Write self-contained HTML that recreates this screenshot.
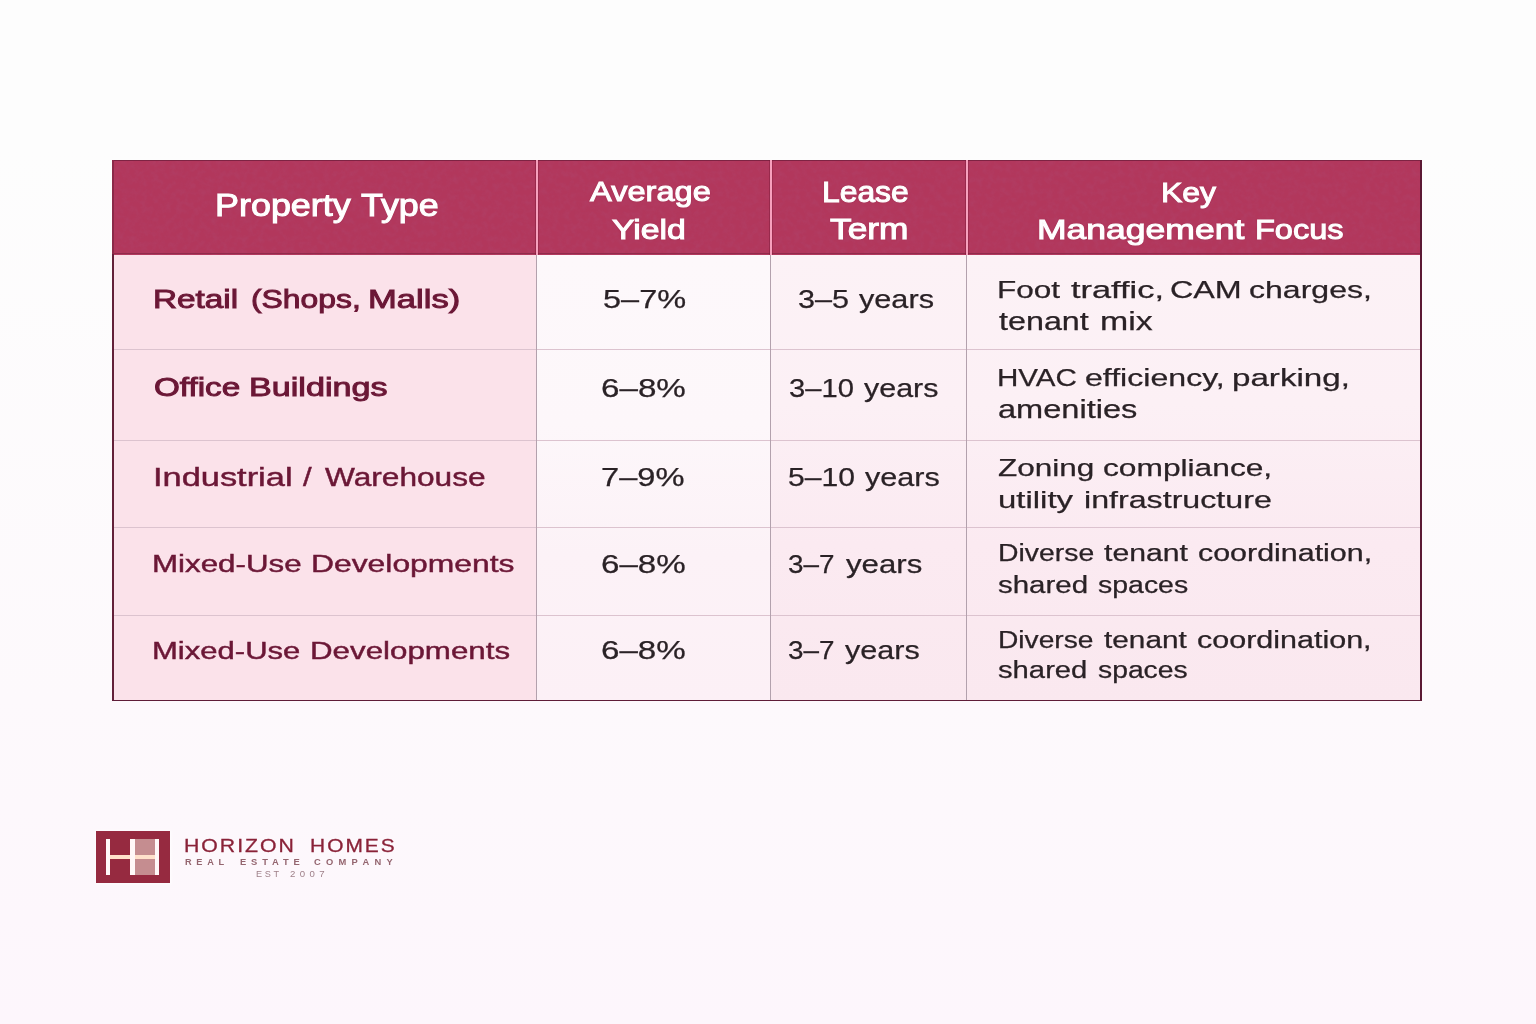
<!DOCTYPE html>
<html lang="en">
<head>
<meta charset="utf-8">
<title>Commercial Property Types</title>
<style>
html,body{margin:0;padding:0;}
body{width:1536px;height:1024px;overflow:hidden;position:relative;
  font-family:"Liberation Sans",sans-serif;
  background:linear-gradient(180deg,#fdfdfd 0px,#fdfdfd 150px,#fdf9fc 700px,#fdf6fc 1024px);}
.abs{position:absolute;}
/* table */
#tbl{position:absolute;left:112px;top:160px;width:1310px;height:541px;background:#fcedf2;}
#hdr{position:absolute;left:0;top:0;width:1310px;height:94.5px;background:#b2375c;}
#hdrtop{position:absolute;left:0;top:0;width:1310px;height:1.2px;background:#7e2343;}
#hdrbot{position:absolute;left:0;top:93.2px;width:1310px;height:1.3px;background:#912b4c;}
#col1{position:absolute;left:0;top:94.5px;width:424px;height:446px;background:#fbe2ea;}
#c2{position:absolute;left:424px;top:94.5px;width:235px;height:446px;
  background:linear-gradient(180deg,#fdf8fb 0px,#fdf7fa 170px,#fcf2f7 300px,#fcf0f6 446px);}
#c34{position:absolute;left:658px;top:94.5px;width:652px;height:446px;
  background:linear-gradient(180deg,#fcf2f6 0px,#fcf0f5 150px,#fbeaf1 290px,#fae8ef 446px);}
.vl{position:absolute;top:94.5px;height:446px;width:1.6px;background:#b3a1ad;}
.vh{position:absolute;top:0;height:94.5px;width:2px;background:#f7a0bd;box-shadow:-1px 0 0 rgba(120,25,55,.45),1px 0 0 rgba(120,25,55,.35);}
.hl{position:absolute;left:2px;width:1306px;height:1px;background:#dcc3cf;}
#bl{position:absolute;left:0;top:94px;width:2px;height:447px;background:#632039;}
#blh{position:absolute;left:0;top:0;width:2px;height:94px;background:#8c2949;}
#br{position:absolute;left:1308px;top:0;width:2px;height:541px;background:#5b1934;}
#bb{position:absolute;left:0;top:539.7px;width:1310px;height:1.4px;background:#5f1d38;}
.t{position:absolute;white-space:nowrap;line-height:1;transform-origin:0 50%;}
.t.m{-webkit-text-stroke:0.45px #6b1736;}
.t.sb{-webkit-text-stroke:0.95px #6b1736;}
.t.h{-webkit-text-stroke:1.0px #fff;text-shadow:0 0 1.5px rgba(110,20,50,.6);}
.t.b{-webkit-text-stroke:0.25px #2a2226;}
.t.lgt{-webkit-text-stroke:0.3px #8a2238;}
/* logo */
#lg{position:absolute;left:96px;top:831px;width:74px;height:52px;background:#962a40;box-shadow:0 0 3px 1.5px rgba(255,255,255,.75);}
#lg i{position:absolute;display:block;}
</style>
</head>
<body>
<div id="tbl">
  <div id="hdr"><svg width="1310" height="95" style="position:absolute;left:0;top:0;display:block"><filter id="nz" x="0" y="0" width="100%" height="100%"><feTurbulence type="fractalNoise" baseFrequency="0.17" numOctaves="3" seed="7" result="n"/><feColorMatrix type="matrix" values="0 0 0 0 0.42  0 0 0 0 0.08  0 0 0 0 0.2  0.9 0 0 0 -0.33"/></filter><rect width="1310" height="95" filter="url(#nz)" opacity="0.5"/></svg></div>
  <div id="col1"></div>
  <div id="c2"></div><div id="c34"></div>
  <div class="hl" style="top:189px"></div>
  <div class="hl" style="top:280px"></div>
  <div class="hl" style="top:367px"></div>
  <div class="hl" style="top:455px"></div>
  <div class="vl" style="left:423.5px"></div>
  <div class="vl" style="left:657.6px"></div>
  <div class="vl" style="left:853.6px"></div>
  <div id="hdrtop"></div>
  <div id="hdrbot"></div>
  <div class="vh" style="left:423.6px"></div>
  <div class="vh" style="left:657.7px"></div>
  <div class="vh" style="left:853.6px"></div>
  <div id="blh"></div><div id="bl"></div><div id="br"></div><div id="bb"></div>
</div>
<div id="lg">
  <i style="left:39px;top:8.4px;width:19.6px;height:35.4px;background:#c58d90"></i>
  <i style="left:14.3px;top:24px;width:44.3px;height:4.2px;background:#ffe1cb"></i>
  <i style="left:9.9px;top:8.2px;width:4.4px;height:35.7px;background:#fff8f8"></i>
  <i style="left:34.2px;top:8.2px;width:4.8px;height:35.7px;background:#fff8f8"></i>
  <i style="left:58.6px;top:8.2px;width:4.4px;height:35.7px;background:#fff8f8"></i>
</div>
<span class="t h" style="left:215.18px;top:190px;font-size:31.0px;letter-spacing:0.000px;color:#ffffff;font-weight:400;transform:scaleX(1.1586)">Property</span>
<span class="t h" style="left:360.50px;top:190px;font-size:31.0px;letter-spacing:0.000px;color:#ffffff;font-weight:400;transform:scaleX(1.1567)">Type</span>
<span class="t h" style="left:590.30px;top:177px;font-size:28.5px;letter-spacing:0.000px;color:#ffffff;font-weight:400;transform:scaleX(1.1433)">Average</span>
<span class="t h" style="left:612.20px;top:215px;font-size:28.5px;letter-spacing:0.000px;color:#ffffff;font-weight:400;transform:scaleX(1.1860)">Yield</span>
<span class="t h" style="left:821.59px;top:178px;font-size:28.8px;letter-spacing:0.000px;color:#ffffff;font-weight:400;transform:scaleX(1.1054)">Lease</span>
<span class="t h" style="left:829.50px;top:215px;font-size:28.8px;letter-spacing:-0.000px;color:#ffffff;font-weight:400;transform:scaleX(1.2253)">Term</span>
<span class="t h" style="left:1160.86px;top:178px;font-size:28.5px;letter-spacing:0.000px;color:#ffffff;font-weight:400;transform:scaleX(1.1220)">Key</span>
<span class="t h" style="left:1036.61px;top:215px;font-size:28.5px;letter-spacing:0.000px;color:#ffffff;font-weight:400;transform:scaleX(1.2461)">Management</span>
<span class="t h" style="left:1255.22px;top:215px;font-size:28.5px;letter-spacing:0.000px;color:#ffffff;font-weight:400;transform:scaleX(1.1412)">Focus</span>
<span class="t sb" style="left:153.44px;top:286px;font-size:26.3px;letter-spacing:0.000px;color:#6b1736;font-weight:400;transform:scaleX(1.2665)">Retail</span>
<span class="t sb" style="left:250.56px;top:286px;font-size:26.3px;letter-spacing:0.000px;color:#6b1736;font-weight:400;transform:scaleX(1.2111)">(Shops,</span>
<span class="t sb" style="left:368.35px;top:286px;font-size:26.3px;letter-spacing:0.000px;color:#6b1736;font-weight:400;transform:scaleX(1.3145)">Malls)</span>
<span class="t sb" style="left:153.68px;top:375px;font-size:25.6px;letter-spacing:0.000px;color:#6b1736;font-weight:400;transform:scaleX(1.2978)">Office</span>
<span class="t sb" style="left:249.11px;top:375px;font-size:25.6px;letter-spacing:0.000px;color:#6b1736;font-weight:400;transform:scaleX(1.3333)">Buildings</span>
<span class="t m" style="left:153.28px;top:464px;font-size:26.0px;letter-spacing:0.000px;color:#6b1736;font-weight:400;transform:scaleX(1.3225)">Industrial</span>
<span class="t m" style="left:302.73px;top:464px;font-size:26.0px;letter-spacing:0.000px;color:#6b1736;font-weight:400;transform:scaleX(1.1938)">/</span>
<span class="t m" style="left:324.73px;top:464px;font-size:26.0px;letter-spacing:0.000px;color:#6b1736;font-weight:400;transform:scaleX(1.2168)">Warehouse</span>
<span class="t m" style="left:152.28px;top:552px;font-size:24.6px;letter-spacing:0.000px;color:#6b1736;font-weight:400;transform:scaleX(1.2725)">Mixed-Use</span>
<span class="t m" style="left:310.64px;top:552px;font-size:24.6px;letter-spacing:0.000px;color:#6b1736;font-weight:400;transform:scaleX(1.2946)">Developments</span>
<span class="t m" style="left:152.30px;top:639px;font-size:24.6px;letter-spacing:0.000px;color:#6b1736;font-weight:400;transform:scaleX(1.2621)">Mixed-Use</span>
<span class="t m" style="left:309.68px;top:639px;font-size:24.6px;letter-spacing:0.000px;color:#6b1736;font-weight:400;transform:scaleX(1.2727)">Developments</span>
<span class="t b" style="left:602.60px;top:286px;font-size:26.5px;letter-spacing:0.000px;color:#2a2226;font-weight:400;transform:scaleX(1.2256)">5–7%</span>
<span class="t b" style="left:600.87px;top:375px;font-size:26.5px;letter-spacing:0.000px;color:#2a2226;font-weight:400;transform:scaleX(1.2512)">6–8%</span>
<span class="t b" style="left:600.89px;top:464px;font-size:26.5px;letter-spacing:0.000px;color:#2a2226;font-weight:400;transform:scaleX(1.2316)">7–9%</span>
<span class="t b" style="left:600.88px;top:551px;font-size:26.5px;letter-spacing:0.000px;color:#2a2226;font-weight:400;transform:scaleX(1.2497)">6–8%</span>
<span class="t b" style="left:600.88px;top:637px;font-size:26.5px;letter-spacing:0.000px;color:#2a2226;font-weight:400;transform:scaleX(1.2497)">6–8%</span>
<span class="t b" style="left:798.12px;top:286px;font-size:26.0px;letter-spacing:-0.000px;color:#2a2226;font-weight:400;transform:scaleX(1.1754)">3–5</span>
<span class="t b" style="left:858.83px;top:286px;font-size:26.0px;letter-spacing:0.000px;color:#2a2226;font-weight:400;transform:scaleX(1.1789)">years</span>
<span class="t b" style="left:789.33px;top:375px;font-size:26.0px;letter-spacing:0.000px;color:#2a2226;font-weight:400;transform:scaleX(1.1215)">3–10</span>
<span class="t b" style="left:864.33px;top:375px;font-size:26.0px;letter-spacing:0.000px;color:#2a2226;font-weight:400;transform:scaleX(1.1710)">years</span>
<span class="t b" style="left:787.97px;top:464px;font-size:26.0px;letter-spacing:0.000px;color:#2a2226;font-weight:400;transform:scaleX(1.1573)">5–10</span>
<span class="t b" style="left:865.12px;top:464px;font-size:26.0px;letter-spacing:0.000px;color:#2a2226;font-weight:400;transform:scaleX(1.1757)">years</span>
<span class="t b" style="left:788.42px;top:551px;font-size:26.0px;letter-spacing:0.000px;color:#2a2226;font-weight:400;transform:scaleX(1.0706)">3–7</span>
<span class="t b" style="left:845.62px;top:551px;font-size:26.0px;letter-spacing:0.000px;color:#2a2226;font-weight:400;transform:scaleX(1.1993)">years</span>
<span class="t b" style="left:788.42px;top:637px;font-size:26.0px;letter-spacing:0.000px;color:#2a2226;font-weight:400;transform:scaleX(1.0706)">3–7</span>
<span class="t b" style="left:845.12px;top:637px;font-size:26.0px;letter-spacing:0.000px;color:#2a2226;font-weight:400;transform:scaleX(1.1757)">years</span>
<span class="t b" style="left:997.05px;top:278px;font-size:24.5px;letter-spacing:0.000px;color:#2a2226;font-weight:400;transform:scaleX(1.2866)">Foot</span>
<span class="t b" style="left:1070.62px;top:278px;font-size:24.5px;letter-spacing:0.000px;color:#2a2226;font-weight:400;transform:scaleX(1.4033)">traffic,</span>
<span class="t b" style="left:1170.01px;top:278px;font-size:24.5px;letter-spacing:0.000px;color:#2a2226;font-weight:400;transform:scaleX(1.3174)">CAM</span>
<span class="t b" style="left:1249.32px;top:278px;font-size:24.5px;letter-spacing:0.000px;color:#2a2226;font-weight:400;transform:scaleX(1.3081)">charges,</span>
<span class="t b" style="left:998.92px;top:309px;font-size:25.5px;letter-spacing:0.000px;color:#2a2226;font-weight:400;transform:scaleX(1.2660)">tenant</span>
<span class="t b" style="left:1100.00px;top:309px;font-size:25.5px;letter-spacing:0.000px;color:#2a2226;font-weight:400;transform:scaleX(1.3275)">mix</span>
<span class="t b" style="left:997.24px;top:366px;font-size:24.8px;letter-spacing:0.000px;color:#2a2226;font-weight:400;transform:scaleX(1.1918)">HVAC</span>
<span class="t b" style="left:1085.03px;top:366px;font-size:24.8px;letter-spacing:0.000px;color:#2a2226;font-weight:400;transform:scaleX(1.2948)">efficiency,</span>
<span class="t b" style="left:1232.49px;top:366px;font-size:24.8px;letter-spacing:0.000px;color:#2a2226;font-weight:400;transform:scaleX(1.3366)">parking,</span>
<span class="t b" style="left:997.62px;top:397px;font-size:25.0px;letter-spacing:0.000px;color:#2a2226;font-weight:400;transform:scaleX(1.3029)">amenities</span>
<span class="t b" style="left:998.12px;top:456px;font-size:24.5px;letter-spacing:0.000px;color:#2a2226;font-weight:400;transform:scaleX(1.2849)">Zoning</span>
<span class="t b" style="left:1102.53px;top:456px;font-size:24.5px;letter-spacing:0.000px;color:#2a2226;font-weight:400;transform:scaleX(1.2941)">compliance,</span>
<span class="t b" style="left:997.58px;top:488px;font-size:24.5px;letter-spacing:0.000px;color:#2a2226;font-weight:400;transform:scaleX(1.3434)">utility</span>
<span class="t b" style="left:1084.31px;top:488px;font-size:24.5px;letter-spacing:0.000px;color:#2a2226;font-weight:400;transform:scaleX(1.3135)">infrastructure</span>
<span class="t b" style="left:998.39px;top:542px;font-size:23.0px;letter-spacing:0.000px;color:#2a2226;font-weight:400;transform:scaleX(1.2334)">Diverse</span>
<span class="t b" style="left:1103.83px;top:542px;font-size:23.0px;letter-spacing:0.000px;color:#2a2226;font-weight:400;transform:scaleX(1.3128)">tenant</span>
<span class="t b" style="left:1197.62px;top:542px;font-size:23.0px;letter-spacing:0.000px;color:#2a2226;font-weight:400;transform:scaleX(1.3219)">coordination,</span>
<span class="t b" style="left:998.12px;top:574px;font-size:23.5px;letter-spacing:0.000px;color:#2a2226;font-weight:400;transform:scaleX(1.2538)">shared</span>
<span class="t b" style="left:1098.12px;top:574px;font-size:23.5px;letter-spacing:0.000px;color:#2a2226;font-weight:400;transform:scaleX(1.2108)">spaces</span>
<span class="t b" style="left:998.40px;top:629px;font-size:23.0px;letter-spacing:0.000px;color:#2a2226;font-weight:400;transform:scaleX(1.2242)">Diverse</span>
<span class="t b" style="left:1103.83px;top:629px;font-size:23.0px;letter-spacing:0.000px;color:#2a2226;font-weight:400;transform:scaleX(1.2942)">tenant</span>
<span class="t b" style="left:1197.12px;top:629px;font-size:23.0px;letter-spacing:0.000px;color:#2a2226;font-weight:400;transform:scaleX(1.3257)">coordination,</span>
<span class="t b" style="left:998.12px;top:659px;font-size:23.5px;letter-spacing:0.000px;color:#2a2226;font-weight:400;transform:scaleX(1.2439)">shared</span>
<span class="t b" style="left:1097.62px;top:659px;font-size:23.5px;letter-spacing:0.000px;color:#2a2226;font-weight:400;transform:scaleX(1.2041)">spaces</span>
<span class="t lgt" style="left:184.41px;top:837px;font-size:18.6px;letter-spacing:1.741px;color:#8a2238;font-weight:400;transform:scaleX(1.1434)">HORIZON</span>
<span class="t lgt" style="left:309.73px;top:837px;font-size:18.6px;letter-spacing:1.828px;color:#8a2238;font-weight:400;transform:scaleX(1.1229)">HOMES</span>
<span class="t lg" style="left:185.40px;top:858px;font-size:8.5px;letter-spacing:4.344px;color:#94656f;font-weight:700;transform:scaleX(1.0840)">REAL</span>
<span class="t lg" style="left:239.50px;top:858px;font-size:8.5px;letter-spacing:4.395px;color:#94656f;font-weight:700;transform:scaleX(1.1012)">ESTATE</span>
<span class="t lg" style="left:314.00px;top:858px;font-size:8.5px;letter-spacing:4.782px;color:#94656f;font-weight:700;transform:scaleX(1.0997)">COMPANY</span>
<span class="t lg" style="left:255.90px;top:870px;font-size:8.8px;letter-spacing:2.523px;color:#9f8089;font-weight:400;transform:scaleX(1.0404)">EST</span>
<span class="t lg" style="left:290.00px;top:870px;font-size:8.8px;letter-spacing:4.037px;color:#9f8089;font-weight:400;transform:scaleX(1.0916)">2007</span>
</body>
</html>
